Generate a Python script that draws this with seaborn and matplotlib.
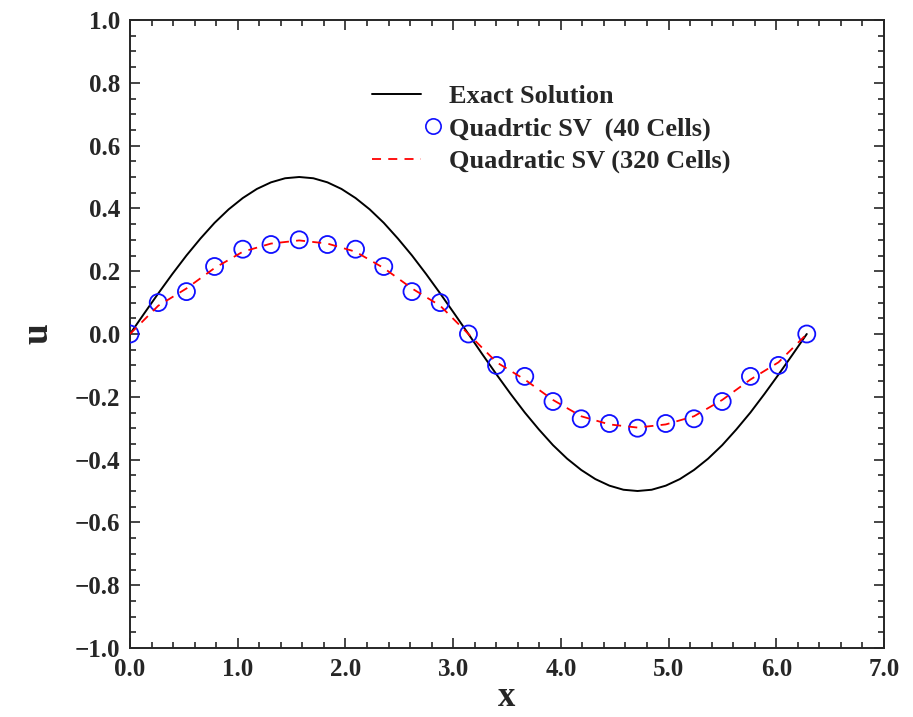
import numpy as np
import pandas as pd
import matplotlib
matplotlib.use("Agg")
import matplotlib.pyplot as plt
import seaborn as sns
from matplotlib.legend_handler import HandlerLine2D
from matplotlib.lines import Line2D

# ---- data ----
exact_x = [0.000, 0.131, 0.262, 0.393, 0.524, 0.654, 0.785, 0.916, 1.047, 1.178, 1.309, 1.440,
           1.571, 1.702, 1.833, 1.963, 2.094, 2.225, 2.356, 2.487, 2.618, 2.749, 2.880, 3.011,
           3.142, 3.272, 3.403, 3.534, 3.665, 3.796, 3.927, 4.058, 4.189, 4.320, 4.451, 4.581,
           4.712, 4.843, 4.974, 5.105, 5.236, 5.367, 5.498, 5.629, 5.760, 5.890, 6.021, 6.152, 6.283]
exact_u = [0.000, 0.065, 0.129, 0.191, 0.250, 0.304, 0.354, 0.397, 0.433, 0.462, 0.483, 0.496,
           0.500, 0.496, 0.483, 0.462, 0.433, 0.397, 0.354, 0.304, 0.250, 0.191, 0.129, 0.065,
           0.000, -0.065, -0.129, -0.191, -0.250, -0.304, -0.354, -0.397, -0.433, -0.462, -0.483, -0.496,
           -0.500, -0.496, -0.483, -0.462, -0.433, -0.397, -0.354, -0.304, -0.250, -0.191, -0.129, -0.065, 0.000]

sv40_x = [0.000, 0.262, 0.524, 0.785, 1.047, 1.309, 1.571, 1.833, 2.094, 2.356, 2.618, 2.880,
          3.142, 3.403, 3.665, 3.927, 4.189, 4.451, 4.712, 4.974, 5.236, 5.498, 5.760, 6.021, 6.283]
sv40_u = [0.000, 0.100, 0.135, 0.215, 0.270, 0.285, 0.300, 0.285, 0.270, 0.215, 0.135, 0.100,
          0.000, -0.100, -0.135, -0.215, -0.270, -0.285, -0.300, -0.285, -0.270, -0.215, -0.135, -0.100, 0.000]

sv320_x = [0.000, 0.262, 0.524, 0.785, 1.047, 1.309, 1.571, 1.833, 2.094, 2.356, 2.618, 2.880,
           3.142, 3.403, 3.665, 3.927, 4.189, 4.451, 4.712, 4.974, 5.236, 5.498, 5.760, 6.021, 6.283]
sv320_u = [0.000, 0.090, 0.145, 0.210, 0.262, 0.288, 0.298, 0.288, 0.262, 0.210, 0.145, 0.090,
           0.000, -0.090, -0.145, -0.210, -0.262, -0.288, -0.298, -0.288, -0.262, -0.210, -0.145, -0.090, 0.000]

x_ticks = [0.0, 1.0, 2.0, 3.0, 4.0, 5.0, 6.0, 7.0]
y_ticks = [-1.0, -0.8, -0.6, -0.4, -0.2, 0.0, 0.2, 0.4, 0.6, 0.8, 1.0]

labels = ["Exact Solution", "Quadrtic SV  (40 Cells)", "Quadratic SV (320 Cells)"]

sns.set_style("ticks")
plt.rcParams['font.family'] = ['Liberation Serif', 'DejaVu Serif']
plt.rcParams['font.weight'] = 'bold'

fig = plt.figure(figsize=(9.13, 7.17), dpi=100)
ax = fig.add_axes([130/913, 69/717, (884-130)/913, (648-20)/717])

df_exact = pd.DataFrame({"x": exact_x, "u": exact_u})
df_40 = pd.DataFrame({"x": sv40_x, "u": sv40_u})
df_320 = pd.DataFrame({"x": sv320_x, "u": sv320_u})

sns.lineplot(data=df_exact, x="x", y="u", ax=ax, color="black", lw=1.4, sort=False)
sns.scatterplot(data=df_40, x="x", y="u", ax=ax, marker="o", s=150,
                facecolor="none", edgecolor="#1010ff", linewidth=1.3, zorder=3)
sns.lineplot(data=df_320, x="x", y="u", ax=ax, color="red", lw=1.3, sort=False,
             dashes=False, linestyle=(0, (5, 4)), zorder=4)

ax.set_xlim(0, 7)
ax.set_ylim(-1, 1)
ax.set_xticks(x_ticks)
ax.set_xticks(np.arange(0, 7.01, 0.2), minor=True)
ax.set_yticks(y_ticks)
ax.set_yticks(np.arange(-1, 1.01, 0.05), minor=True)
ax.set_xticklabels([f"{v:.1f}" for v in x_ticks])
ax.set_yticklabels([f"{v:.1f}".replace("-", "\u2212") for v in y_ticks])
ax.tick_params(which="both", direction="in", top=True, right=True, width=1.2,
               labelsize=18, pad=7)
ax.tick_params(which="major", length=7)
ax.tick_params(which="minor", length=4)
for lab in ax.get_xticklabels() + ax.get_yticklabels():
    lab.set_fontweight("bold")
for sp in ax.spines.values():
    sp.set_linewidth(1.4)
    sp.set_visible(True)

ax.set_xlabel("x", fontsize=25, fontweight="bold", labelpad=0)
ax.set_ylabel("u", fontsize=27, fontweight="bold", labelpad=14)


class RightMarkerHandler(HandlerLine2D):
    def create_artists(self, legend, orig_handle, xdescent, ydescent, width, height, fontsize, trans):
        arts = super().create_artists(legend, orig_handle, xdescent, ydescent, width, height, fontsize, trans)
        for a in arts:
            if isinstance(a, Line2D) and a.get_marker() not in (None, "None", ""):
                a.set_xdata([width - xdescent + 0.45 * fontsize])
        return arts


h1 = Line2D([], [], color="black", lw=1.4)
h2 = Line2D([], [], ls="none", marker="o", markersize=11, markerfacecolor="none",
            markeredgecolor="#1010ff", markeredgewidth=1.2)
h3 = Line2D([], [], color="red", lw=1.3, linestyle=(0, (5, 4)))
leg = ax.legend([h1, h2, h3], labels, loc="upper left", bbox_to_anchor=(0.321, 0.897),
                frameon=False, handlelength=1.85, handletextpad=1.05, borderpad=0,
                borderaxespad=0, labelspacing=0.33, prop={"weight": "bold", "size": 19},
                handler_map={h2: RightMarkerHandler(numpoints=1)})

fig.savefig("out.png", dpi=100)
